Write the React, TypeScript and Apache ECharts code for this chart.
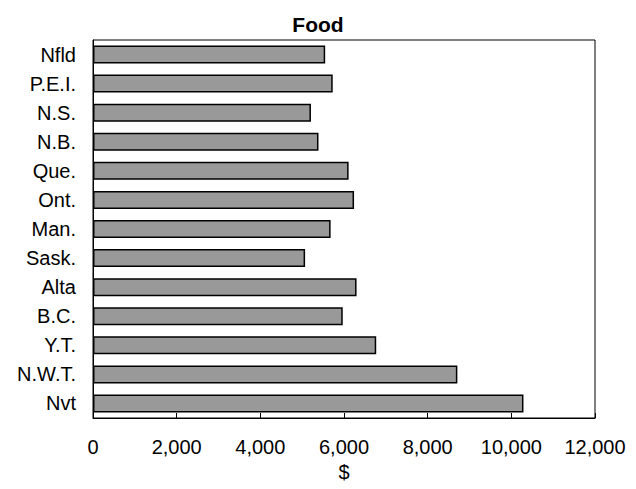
import React, { useEffect, useRef } from "react";
import * as echarts from "echarts";

const provinces = ["Nfld", "P.E.I.", "N.S.", "N.B.", "Que.", "Ont.", "Man.", "Sask.", "Alta", "B.C.", "Y.T.", "N.W.T.", "Nvt"];
const foodSpending = [5550, 5730, 5210, 5390, 6110, 6240, 5680, 5070, 6300, 5970, 6770, 8710, 10290];
const xTicks = { min: 0, max: 12000, step: 2000 };

const FONT = 'Arial, "Liberation Sans", sans-serif';

export default function App() {
  const ref = useRef<HTMLDivElement>(null);

  useEffect(() => {
    if (!ref.current) return;
    const chart = echarts.init(ref.current, undefined, { renderer: "svg" });
    chart.setOption({
      animation: false,
      backgroundColor: "#ffffff",
      title: {
        text: "Food",
        left: "center",
        top: 9,
        textStyle: { fontFamily: FONT, fontSize: 21, fontWeight: "bold", color: "#000" },
      },
      grid: {
        left: 93,
        right: 41,
        top: 40,
        bottom: 71,
        show: true,
        borderColor: "#000",
        borderWidth: 1,
        containLabel: false,
      },
      xAxis: {
        type: "value",
        min: xTicks.min,
        max: xTicks.max,
        interval: xTicks.step,
        name: "$",
        nameLocation: "middle",
        nameGap: 42,
        nameTextStyle: { fontFamily: FONT, fontSize: 20, color: "#000" },
        axisLine: { show: true, lineStyle: { color: "#000", width: 1 } },
        axisTick: { show: true, inside: true, length: 5, lineStyle: { color: "#000" } },
        splitLine: { show: false },
        axisLabel: {
          fontFamily: FONT,
          fontSize: 20,
          color: "#000",
          margin: 19,
          formatter: (v: number) => v.toLocaleString("en-US"),
        },
      },
      yAxis: {
        type: "category",
        inverse: true,
        data: provinces,
        axisLine: { show: true, lineStyle: { color: "#000", width: 1 } },
        axisTick: { show: false },
        splitLine: { show: false },
        axisLabel: { fontFamily: FONT, fontSize: 20, color: "#000", margin: 17 },
      },
      series: [
        {
          type: "bar",
          data: foodSpending,
          barWidth: 18,
          itemStyle: { color: "#999999", borderColor: "#000", borderWidth: 1.5 },
        },
      ],
    });
    return () => chart.dispose();
  }, []);

  return <div ref={ref} style={{ position: "fixed", left: 0, top: 0, width: 636, height: 489 }} />;
}
